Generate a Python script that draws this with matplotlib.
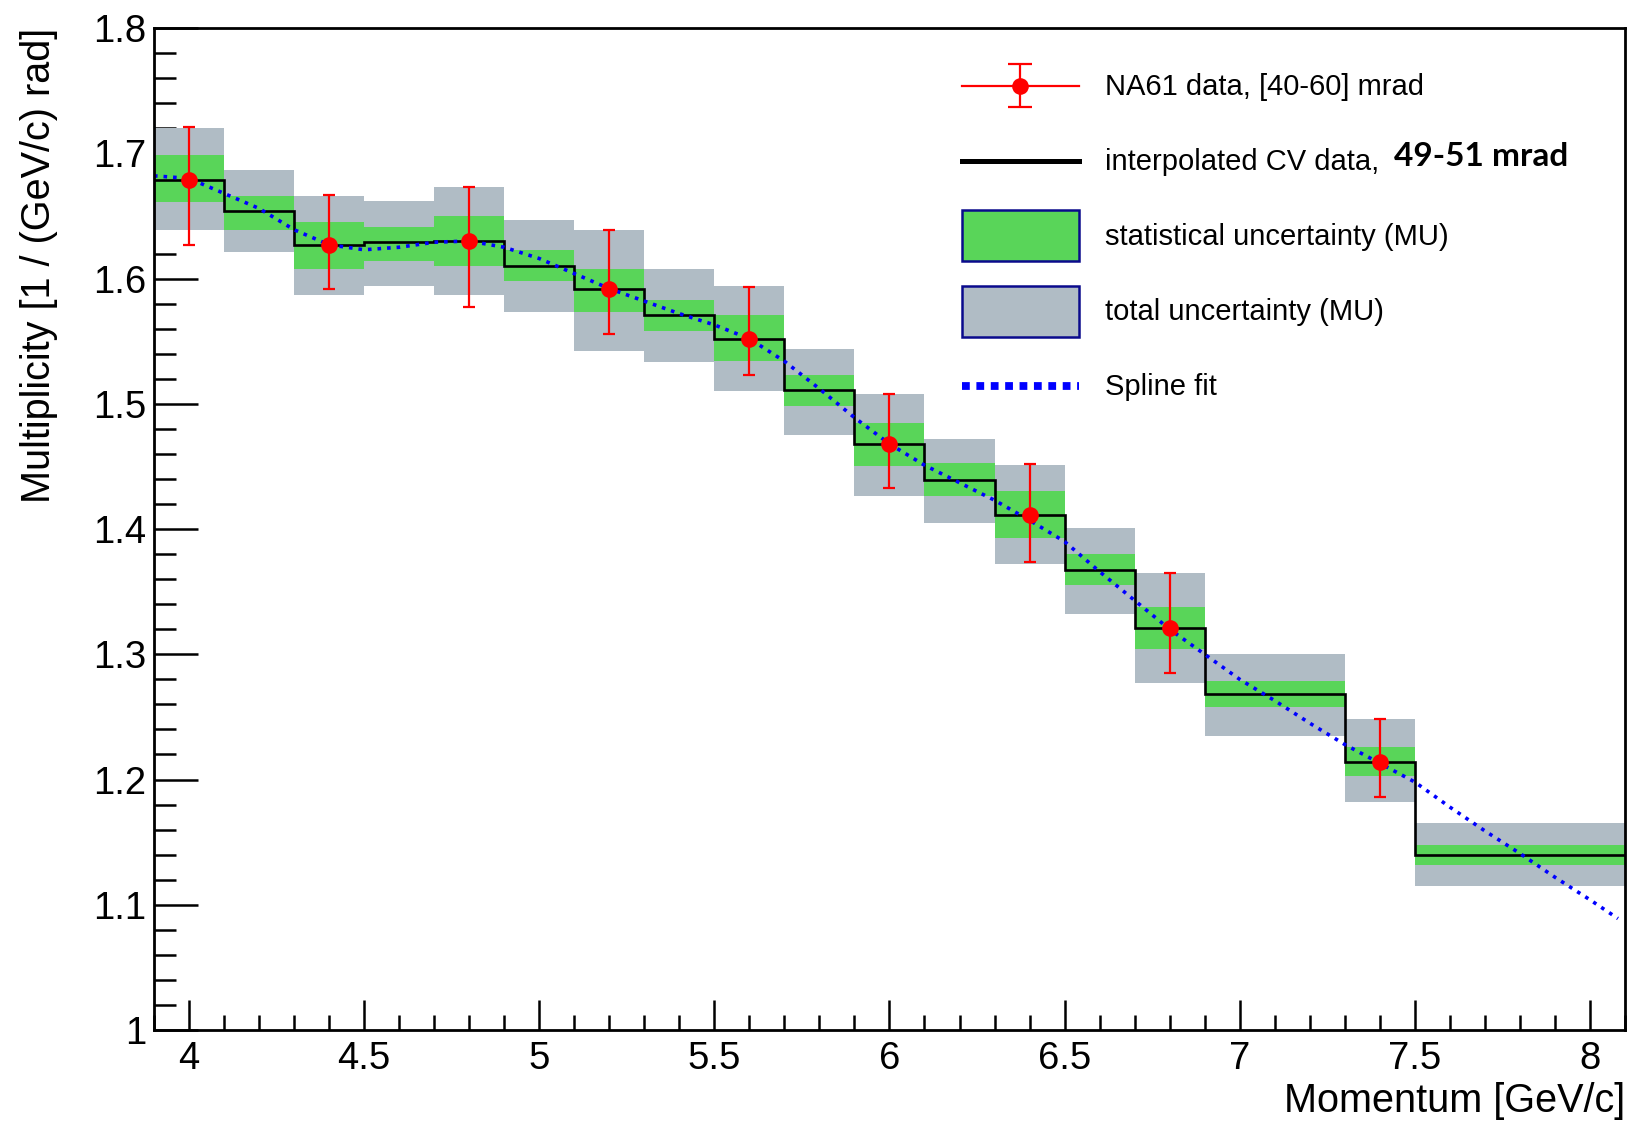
import matplotlib
matplotlib.use('Agg')
import matplotlib.pyplot as plt
import numpy as np
from matplotlib.container import ErrorbarContainer
from matplotlib.legend_handler import HandlerErrorbar, HandlerLine2D
from matplotlib.lines import Line2D
from matplotlib.patches import Patch
from matplotlib.ticker import MultipleLocator, FormatStrFormatter

plt.rcParams['font.family'] = ['Liberation Sans', 'DejaVu Sans']

# interpolated CV histogram, bin edges in GeV/c
edges = [3.9, 4.1, 4.3, 4.5, 4.7, 4.9, 5.1, 5.3, 5.5, 5.7, 5.9,
         6.1, 6.3, 6.5, 6.7, 6.9, 7.3, 7.5, 8.1]
cv_values = [1.679, 1.654, 1.627, 1.629, 1.630, 1.610, 1.592, 1.571, 1.552,
             1.511, 1.468, 1.439, 1.411, 1.367, 1.321, 1.268, 1.214, 1.140]

# statistical uncertainty band (MU)
stat_lo = [1.661, 1.639, 1.608, 1.614, 1.610, 1.598, 1.573, 1.558, 1.534,
           1.498, 1.450, 1.426, 1.393, 1.355, 1.304, 1.258, 1.203, 1.132]
stat_hi = [1.699, 1.666, 1.645, 1.641, 1.650, 1.623, 1.608, 1.583, 1.571,
           1.523, 1.485, 1.453, 1.430, 1.380, 1.338, 1.279, 1.226, 1.148]

# total uncertainty band (MU)
tot_lo = [1.639, 1.621, 1.587, 1.594, 1.587, 1.573, 1.542, 1.533, 1.510,
          1.475, 1.426, 1.405, 1.372, 1.332, 1.277, 1.235, 1.182, 1.115]
tot_hi = [1.720, 1.687, 1.666, 1.662, 1.673, 1.647, 1.639, 1.608, 1.594,
          1.544, 1.508, 1.472, 1.451, 1.401, 1.365, 1.300, 1.248, 1.165]

# NA61 points, [40-60] mrad, with asymmetric error limits
na61_p = [4.0, 4.4, 4.8, 5.2, 5.6, 6.0, 6.4, 6.8, 7.4]
na61_mult = [1.679, 1.627, 1.630, 1.592, 1.552, 1.468, 1.411, 1.321, 1.214]
na61_lo = [1.627, 1.592, 1.577, 1.556, 1.523, 1.433, 1.374, 1.285, 1.186]
na61_hi = [1.721, 1.667, 1.673, 1.639, 1.593, 1.508, 1.452, 1.365, 1.248]

# spline fit through the NA61 points
spline_p = [3.90, 4.00, 4.10, 4.20, 4.30, 4.40, 4.50, 4.60, 4.70, 4.80,
            4.90, 5.00, 5.10, 5.20, 5.30, 5.40, 5.50, 5.60, 5.70, 5.80,
            5.90, 6.00, 6.10, 6.20, 6.30, 6.40, 6.50, 6.60, 6.70, 6.80,
            6.90, 7.00, 7.10, 7.20, 7.30, 7.40, 7.50, 7.60, 7.70, 7.80,
            7.90, 8.00, 8.08]
spline_mult = [1.682, 1.680, 1.668, 1.656, 1.639, 1.627, 1.623, 1.625, 1.629, 1.630,
               1.625, 1.616, 1.604, 1.592, 1.582, 1.572, 1.563, 1.552, 1.534, 1.512,
               1.489, 1.468, 1.451, 1.437, 1.423, 1.407, 1.390, 1.366, 1.343, 1.320,
               1.300, 1.280, 1.263, 1.245, 1.228, 1.213, 1.198, 1.178, 1.159, 1.141,
               1.122, 1.104, 1.089]

GREEN = '#59d559'
GREY = '#b0bcc5'
NAVY = '#0a0a8c'


# line-type legend keys sit in the middle of the tall key box, level with the boxes
class MidLine(HandlerLine2D):
    def create_artists(self, legend, orig_handle, xdescent, ydescent,
                       width, height, fontsize, trans):
        return super().create_artists(legend, orig_handle, xdescent, ydescent,
                                      width, height - ydescent, fontsize, trans)


class MidErrorbar(HandlerErrorbar):
    def create_artists(self, legend, orig_handle, xdescent, ydescent,
                       width, height, fontsize, trans):
        return super().create_artists(legend, orig_handle, xdescent, ydescent,
                                      width, height - ydescent, fontsize, trans)


fig = plt.figure(figsize=(16.31, 11.23), dpi=100)
ax = fig.add_axes([0.0944, 0.0828, 0.9019, 0.8922])

left = np.array(edges[:-1])
widths = np.diff(edges)
ax.bar(left, np.array(tot_hi) - np.array(tot_lo), width=widths, bottom=tot_lo,
       align='edge', color=GREY, linewidth=0, zorder=1)
ax.bar(left, np.array(stat_hi) - np.array(stat_lo), width=widths, bottom=stat_lo,
       align='edge', color=GREEN, linewidth=0, zorder=2)
ax.stairs(cv_values, edges, baseline=None, color='black', linewidth=1.9, zorder=3)
ax.plot(spline_p, spline_mult, color='blue', linestyle=':', linewidth=2.6,
        dash_capstyle='butt', zorder=4)

mult = np.array(na61_mult)
yerr = [mult - np.array(na61_lo), np.array(na61_hi) - mult]
marker_style = dict(fmt='o', color='red', markersize=12,
                    elinewidth=1.6, capthick=1.6)
data = ax.errorbar(na61_p, na61_mult, yerr=yerr, capsize=4.0, zorder=5, **marker_style)
# legend entry uses wider caps, as in the ROOT legend
data_key = ax.errorbar([np.nan], [np.nan], yerr=[[0.0], [0.0]], capsize=8.3,
                       **marker_style)
# no edge on the dots (set here so the caps keep their thickness)
for cont in (data, data_key):
    cont.lines[0].set_markeredgewidth(0)

ax.set_xlim(3.9, 8.1)
ax.set_ylim(1.0, 1.8)
ax.xaxis.set_major_locator(MultipleLocator(0.5))
ax.xaxis.set_minor_locator(MultipleLocator(0.1))
ax.yaxis.set_major_locator(MultipleLocator(0.1))
ax.yaxis.set_minor_locator(MultipleLocator(0.02))
ax.xaxis.set_major_formatter(FormatStrFormatter('%g'))
ax.yaxis.set_major_formatter(FormatStrFormatter('%g'))
ax.set_axisbelow(True)

ax.tick_params(which='both', direction='in', top=False, right=False,
               width=1.8, labelsize=27.5)
ax.tick_params(axis='x', which='major', length=21.5, pad=8)
ax.tick_params(axis='x', which='minor', length=10.8)
ax.tick_params(axis='y', which='major', length=31.5, pad=5.5)
ax.tick_params(axis='y', which='minor', length=16)
for spine in ax.spines.values():
    spine.set_linewidth(2.0)
    spine.set_zorder(6)

ax.set_xlabel('Momentum [GeV/c]', fontsize=28.5, loc='right')
ax.xaxis.set_label_coords(1.0, -0.052)
ax.set_ylabel('Multiplicity [1 / (GeV/c) rad]', fontsize=28.5, loc='top')
ax.yaxis.set_label_coords(-0.065, 1.0)

# legend, drawn without frame like the ROOT TLegend
handles = [
    (Line2D([], [], color='red', linewidth=1.6), data_key),
    Line2D([], [], color='black', linewidth=3.6),
    Patch(facecolor=GREEN, edgecolor=NAVY, linewidth=1.8),
    Patch(facecolor=GREY, edgecolor=NAVY, linewidth=1.8),
    Line2D([], [], color='blue', linewidth=5.6, dashes=(1, 0.85), dash_capstyle='butt'),
]
labels = [
    'NA61 data, [40-60] mrad',
    'interpolated CV data,',
    'statistical uncertainty (MU)',
    'total uncertainty (MU)',
    'Spline fit',
]
ax.legend(handles, labels, loc='upper left', bbox_to_anchor=(0.5493, 0.968),
          frameon=False, fontsize=21, borderpad=0, borderaxespad=0,
          handlelength=4.0, handleheight=2.31, handletextpad=0.92,
          labelspacing=0.83,
          handler_map={ErrorbarContainer: MidErrorbar(yerr_size=0.75),
                       Line2D: MidLine()})

fig.text(1394 / 1631, 1 - 156 / 1123, '49-51 mrad', fontsize=24,
         fontweight='bold', family=['Lato', 'DejaVu Sans'], va='center')

fig.savefig('out.png', dpi=100)
